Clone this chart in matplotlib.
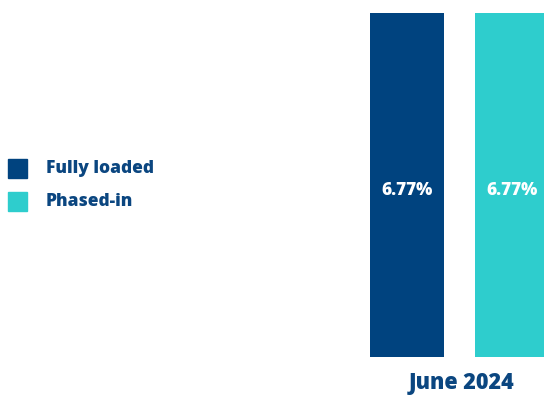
import matplotlib
matplotlib.use("Agg")
import matplotlib.pyplot as plt
from matplotlib.patches import Rectangle

plt.rcParams['font.family'] = ['Open Sans', 'DejaVu Sans']

# capital ratios for the period
period = 'June 2024'
series = ['Fully loaded', 'Phased-in']
values = [6.77, 6.77]
colors = ['#00437f', '#2ecdcd']
text_color = '#0b4680'

fig = plt.figure(figsize=(5.44, 3.96), dpi=100)

W, H = 544, 396
bar_w = 0.705
# axes box in pixels: left edge of first bar to right edge of second
left_px, right_px = 370, 549
top_px, bottom_px = 13, 357
ax = fig.add_axes([left_px / W, (H - bottom_px) / H,
                   (right_px - left_px) / W, (bottom_px - top_px) / H])

xs = range(len(values))
bars = ax.bar(xs, values, width=bar_w, color=colors)
for x, v in zip(xs, values):
    ax.text(x, v / 2 - 0.1, f'{v:.2f}%', ha='center', va='center',
            color='white', fontsize=12.3, fontweight='heavy')

ax.set_xlim(-bar_w / 2, 1 + bar_w / 2)
ax.set_ylim(0, max(values))
ax.set_xticks([0.52])
ax.set_xticklabels([period], fontsize=15.5, fontweight='heavy', color=text_color)
ax.tick_params(axis='x', length=0, pad=10)
ax.set_yticks([])
for s in ax.spines.values():
    s.set_visible(False)

# legend on the left side
for i, (name, c) in enumerate(zip(series, colors)):
    yc = 168.5 + i * 33
    fig.patches.append(Rectangle((8 / W, (H - yc - 9.5) / H), 19 / W, 19 / H,
                                 transform=fig.transFigure, color=c))
    fig.text(46 / W, (H - yc) / H, name, ha='left', va='center',
             fontsize=12.5, fontweight='heavy', color=text_color)

fig.savefig('out.png', dpi=100)
